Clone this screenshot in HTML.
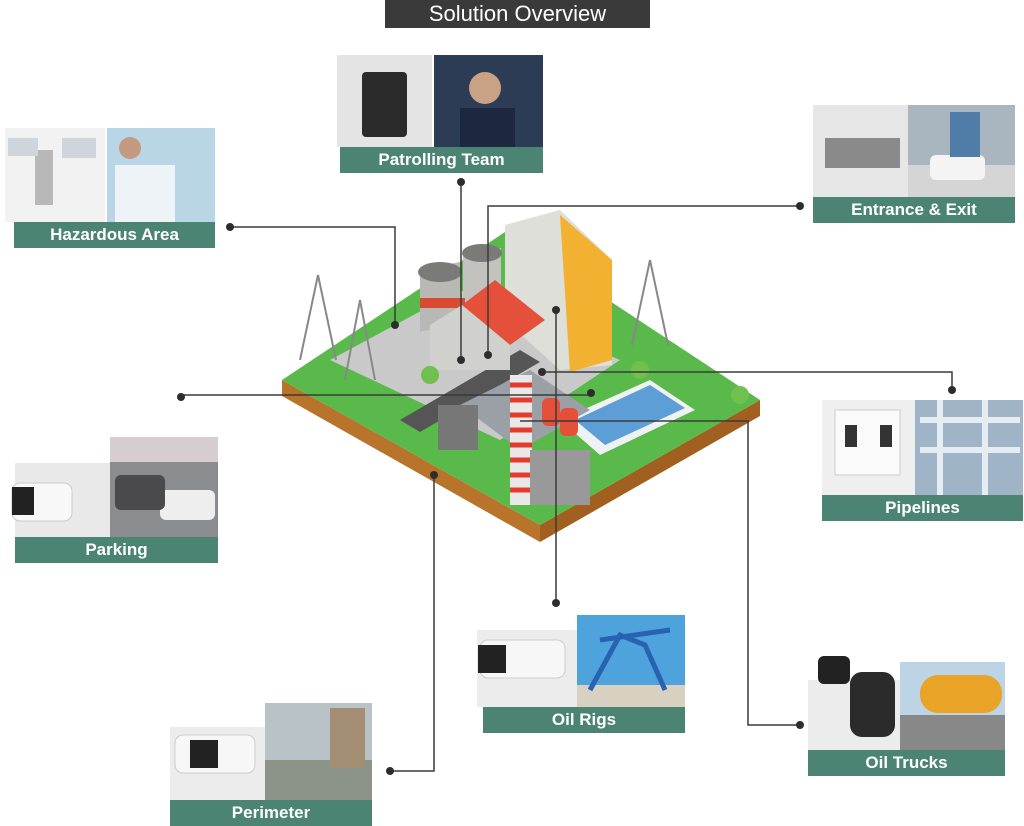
<!DOCTYPE html>
<html><head><meta charset="utf-8"><style>
body{margin:0;width:1024px;height:826px;background:#fff;position:relative;overflow:hidden;font-family:"Liberation Sans",sans-serif}
.lb{position:absolute;background:#4b8472;color:#fff;font-weight:bold;font-size:17px;text-align:center;line-height:26px;height:26px}
.im{position:absolute}
</style></head><body>
<div style="position:absolute;left:385px;top:0;width:265px;height:28px;background:#3a3a3a;color:#fff;font-size:22px;text-align:center;line-height:28px">Solution Overview</div>
<svg width="1024" height="826" style="position:absolute;left:0;top:0">
<!-- image blocks -->
<g>
<rect x="337" y="55" width="95" height="92" fill="#e4e4e4"/><rect x="362" y="72" width="45" height="65" rx="4" fill="#2b2b2b"/>
<rect x="434" y="55" width="109" height="92" fill="#2d3c55"/><circle cx="485" cy="88" r="16" fill="#c9a185"/><rect x="460" y="108" width="55" height="39" fill="#1d2840"/>
<rect x="5" y="128" width="100" height="94" fill="#f2f2f2"/><rect x="35" y="150" width="18" height="55" fill="#b8b8b8"/><rect x="8" y="138" width="30" height="18" fill="#cfd5db"/><rect x="62" y="138" width="34" height="20" fill="#cfd5db"/>
<rect x="107" y="128" width="108" height="94" fill="#b9d6e6"/><rect x="115" y="165" width="60" height="57" fill="#eef3f7"/><circle cx="130" cy="148" r="11" fill="#c39a80"/>
<rect x="813" y="105" width="95" height="92" fill="#e6e6e6"/><rect x="825" y="138" width="75" height="30" fill="#8a8a8a"/>
<rect x="908" y="105" width="107" height="92" fill="#a9b6c0"/><rect x="908" y="165" width="107" height="32" fill="#d5d5d5"/><rect x="930" y="155" width="55" height="25" rx="6" fill="#f4f4f4"/><rect x="950" y="112" width="30" height="45" fill="#4f7da8"/>
<rect x="822" y="400" width="93" height="95" fill="#efefef"/><rect x="835" y="410" width="65" height="65" fill="#fafafa" stroke="#ccc"/><rect x="845" y="425" width="12" height="22" fill="#333"/><rect x="880" y="425" width="12" height="22" fill="#333"/>
<rect x="915" y="400" width="108" height="95" fill="#9fb5c7"/><path d="M920 420h100M920 450h100M940 400v95M985 400v95" stroke="#e5edf3" stroke-width="6"/>
<rect x="15" y="463" width="95" height="74" fill="#e9e9e9"/><rect x="12" y="483" width="60" height="38" rx="8" fill="#f8f8f8" stroke="#ccc"/><rect x="12" y="487" width="22" height="28" fill="#222"/>
<rect x="110" y="437" width="108" height="100" fill="#8a8c90"/><rect x="110" y="437" width="108" height="25" fill="#d6cdd0"/><rect x="160" y="490" width="55" height="30" rx="6" fill="#eee"/><rect x="115" y="475" width="50" height="35" rx="6" fill="#4a4a4d"/>
<rect x="477" y="630" width="100" height="77" fill="#ececec"/><rect x="480" y="640" width="85" height="38" rx="8" fill="#f7f7f7" stroke="#ccc"/><rect x="478" y="645" width="28" height="28" fill="#222"/>
<rect x="577" y="615" width="108" height="92" fill="#4fa3dc"/><rect x="577" y="685" width="108" height="22" fill="#d8d0c0"/><path d="M590 690l30-55 25 10 20 45M600 640l70 -10" stroke="#2763b0" stroke-width="5" fill="none"/>
<rect x="808" y="680" width="92" height="70" fill="#ececec"/><rect x="818" y="656" width="32" height="28" rx="6" fill="#222"/><rect x="850" y="672" width="45" height="65" rx="12" fill="#2b2b2b"/>
<rect x="900" y="662" width="105" height="88" fill="#bcd4e6"/><rect x="900" y="715" width="105" height="35" fill="#888"/><rect x="920" y="675" width="82" height="38" rx="18" fill="#e9a326"/>
<rect x="170" y="727" width="95" height="73" fill="#ececec"/><rect x="175" y="735" width="80" height="38" rx="8" fill="#f7f7f7" stroke="#ccc"/><rect x="190" y="740" width="28" height="28" fill="#222"/>
<rect x="265" y="703" width="107" height="97" fill="#b9c3c7"/><rect x="265" y="760" width="107" height="40" fill="#8c9388"/><rect x="330" y="708" width="35" height="60" fill="#a38e73"/>
</g>
<!-- platform -->
<polygon points="282,380 540,525 540,542 282,396" fill="#b9742c"/>
<polygon points="540,525 760,400 760,416 540,542" fill="#a1601f"/>
<polygon points="505,232 760,400 540,525 282,380" fill="#59b94a"/>
<polygon points="330,360 460,290 620,360 500,440" fill="#c9c9c9"/>
<polygon points="400,420 520,350 540,362 420,432" fill="#555"/>
<polygon points="560,420 650,380 695,410 600,455" fill="#eef2f2"/>
<polygon points="575,420 650,385 685,408 605,445" fill="#5d9ed6"/>
<polygon points="460,405 530,370 590,410 520,450" fill="#9b9fa6"/>
<!-- buildings -->
<path d="M420 270 l40 -8 v60 l-40 10z" fill="#b8b8b4"/><ellipse cx="440" cy="272" rx="22" ry="10" fill="#7a7a78"/>
<path d="M463 252 l38 -4 v60 l-38 8z" fill="#c2c2be"/><ellipse cx="482" cy="253" rx="20" ry="9" fill="#7a7a78"/>
<rect x="420" y="298" width="45" height="10" fill="#d94a33"/>
<polygon points="505,225 560,210 612,260 612,365 560,370 505,320" fill="#dedfd8"/>
<polygon points="560,215 612,260 612,360 570,372" fill="#f3b131"/>
<polygon points="462,305 495,280 545,320 510,345" fill="#e4503a"/>
<polygon points="430,325 462,305 510,345 510,370 430,370" fill="#d0d0cc"/>
<rect x="510" y="375" width="22" height="130" fill="#e8e8e8"/>
<path d="M510 385h22M510 400h22M510 415h22M510 430h22M510 445h22M510 460h22M510 475h22M510 490h22" stroke="#e33b2e" stroke-width="5"/>
<rect x="542" y="398" width="18" height="28" rx="6" fill="#e4503a"/><rect x="560" y="408" width="18" height="28" rx="6" fill="#e4503a"/>
<path d="M318 275 l-18 85 M318 275 l18 85 M650 260 l-18 85 M650 260 l18 85 M360 300 l-15 80 M360 300 l15 80" stroke="#888" stroke-width="2" fill="none"/>
<rect x="438" y="405" width="40" height="45" fill="#777"/><rect x="530" y="450" width="60" height="55" fill="#999"/>
<circle cx="430" cy="375" r="9" fill="#6fc04e"/><circle cx="640" cy="370" r="9" fill="#6fc04e"/><circle cx="740" cy="395" r="9" fill="#6fc04e"/>
<!-- connectors -->
<g stroke="#3a3a3a" stroke-width="1.5" fill="none">
<path d="M230 227H395V325"/>
<path d="M461 182V360"/>
<path d="M800 206H488V355"/>
<path d="M542 372H952V390"/>
<path d="M181 397V395H591"/>
<path d="M556 310V603"/>
<path d="M800 725H748V421H520"/>
<path d="M390 771H434V475"/>
</g>
<g fill="#2d2d2d">
<circle cx="230" cy="227" r="4"/><circle cx="395" cy="325" r="4"/>
<circle cx="461" cy="182" r="4"/><circle cx="461" cy="360" r="4"/>
<circle cx="800" cy="206" r="4"/><circle cx="488" cy="355" r="4"/>
<circle cx="542" cy="372" r="4"/><circle cx="952" cy="390" r="4"/>
<circle cx="181" cy="397" r="4"/><circle cx="591" cy="393" r="4"/>
<circle cx="556" cy="310" r="4"/><circle cx="556" cy="603" r="4"/>
<circle cx="800" cy="725" r="4"/>
<circle cx="390" cy="771" r="4"/><circle cx="434" cy="475" r="4"/>
</g>
</svg>
<div class="lb" style="left:340px;top:147px;width:203px">Patrolling Team</div>
<div class="lb" style="left:14px;top:222px;width:201px">Hazardous Area</div>
<div class="lb" style="left:813px;top:197px;width:202px">Entrance &amp; Exit</div>
<div class="lb" style="left:822px;top:495px;width:201px">Pipelines</div>
<div class="lb" style="left:15px;top:537px;width:203px">Parking</div>
<div class="lb" style="left:483px;top:707px;width:202px">Oil Rigs</div>
<div class="lb" style="left:808px;top:750px;width:197px">Oil Trucks</div>
<div class="lb" style="left:170px;top:800px;width:202px">Perimeter</div>
</body></html>
